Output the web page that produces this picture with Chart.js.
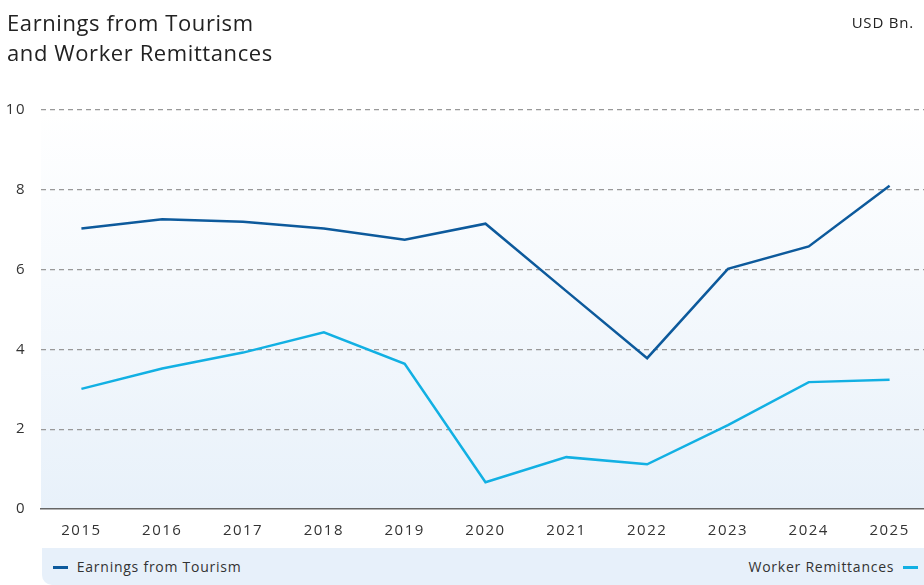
<!DOCTYPE html>
<html>
<head>
<meta charset="utf-8">
<script src="https://cdn.jsdelivr.net/npm/chart.js@4"></script>
<style>
    body { margin: 0; width: 924px; height: 585px; overflow: hidden; background: #fff; font-family: "Open Sans", sans-serif; color: #222; }
    #title { position: absolute; left: 7px; top: 7px; font-size: 22px; line-height: 30px; letter-spacing: 0.6px; z-index: 2; }
    #unit { position: absolute; right: 10px; top: 12px; font-size: 15px; letter-spacing: 0.8px; z-index: 2; }
    #wrap { position: absolute; left: 0; top: 0; width: 930px; height: 548px; }
    #legend { position: absolute; left: 42px; top: 548px; width: 900px; height: 37px; background: #e7f0fa; border-bottom-left-radius: 10px; font-size: 14px; letter-spacing: 0.75px; color: #333; }
    .leg { position: absolute; top: 10px; line-height: 18px; }
    .mark { display: inline-block; width: 15px; height: 3px; vertical-align: middle; margin-top: -2px; }
</style>
</head>
<body>
<div id="title">Earnings from Tourism<br>and Worker Remittances</div>
<div id="unit">USD Bn.</div>
<div id="wrap"><canvas id="chart"></canvas></div>
<div id="legend">
    <div class="leg" style="left: 11px"><span class="mark" style="background:#0d5a9c"></span>&nbsp; Earnings from Tourism</div>
    <div class="leg" style="right: 24px">Worker Remittances &nbsp;<span class="mark" style="background:#12b0e3"></span></div>
</div>
<script>
const years = ['2015', '2016', '2017', '2018', '2019', '2020', '2021', '2022', '2023', '2024', '2025'];
const tourism = [7.03, 7.26, 7.20, 7.03, 6.75, 7.15, 5.46, 3.78, 6.02, 6.58, 8.10];
const remittances = [3.01, 3.52, 3.92, 4.43, 3.64, 0.67, 1.30, 1.12, 2.10, 3.18, 3.24];
const yTicks = [0, 2, 4, 6, 8, 10];

const plotBg = {
    id: 'plotBg',
    beforeDraw(chart) {
        const { ctx, chartArea: a } = chart;
        const g = ctx.createLinearGradient(0, a.top, 0, a.bottom);
        g.addColorStop(0, '#ffffff');
        g.addColorStop(1, '#e8f1fa');
        ctx.save();
        ctx.fillStyle = g;
        ctx.fillRect(a.left, a.top, a.right - a.left, a.bottom - a.top);
        ctx.restore();
        // wider tick text, like the reference
        ctx.letterSpacing = '1.5px';
    },
    afterDraw(chart) {
        chart.ctx.letterSpacing = '0px';
    }
};

new Chart(document.getElementById('chart'), {
    type: 'line',
    data: {
        labels: years,
        datasets: [
            { label: 'Earnings from Tourism', data: tourism, borderColor: '#0d5a9c', borderWidth: 2.5, pointRadius: 0, tension: 0 },
            { label: 'Worker Remittances', data: remittances, borderColor: '#12b0e3', borderWidth: 2.5, pointRadius: 0, tension: 0 }
        ]
    },
    options: {
        responsive: true,
        maintainAspectRatio: false,
        animation: false,
        layout: { padding: { top: 110, right: 0, left: 0, bottom: 0 } },
        plugins: { legend: { display: false }, tooltip: { enabled: false } },
        scales: {
            x: {
                offset: true,
                grid: { display: false, drawTicks: false },
                border: { display: true, color: '#666', width: 1.5 },
                ticks: { color: '#333', font: { family: 'Open Sans', size: 15 }, padding: 13, maxRotation: 0 },
                afterFit: s => { s.height = 39; }
            },
            y: {
                min: 0, max: 10,
                afterBuildTicks: s => { s.ticks = yTicks.map(v => ({ value: v })); },
                grid: {
                    drawTicks: false,
                    color: c => c.tick && c.tick.value === 0 ? 'rgba(0,0,0,0)' : '#999',
                    lineWidth: 1.2
                },
                border: { display: false, dash: [5, 4] },
                ticks: { color: '#333', font: { family: 'Open Sans', size: 15 }, padding: 15 },
                afterFit: s => { s.width = 41; }
            }
        }
    },
    plugins: [plotBg]
});
</script>
</body>
</html>
